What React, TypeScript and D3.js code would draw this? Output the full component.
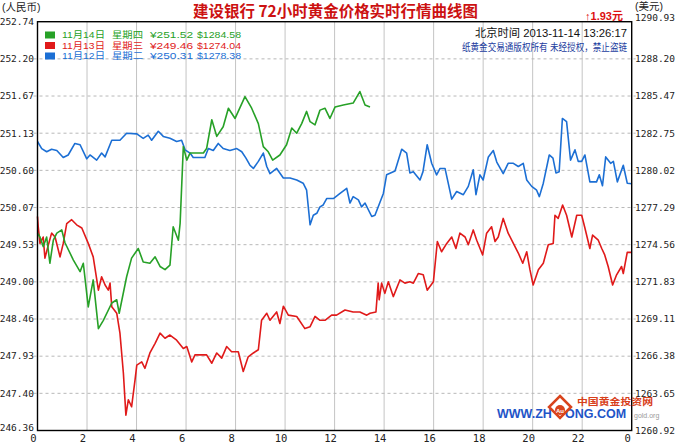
import React from 'react';
import * as d3 from 'd3';

const W = 675;
const H = 443;

// ---- data ----
const xTickHours = [0, 2, 4, 6, 8, 10, 12, 14, 16, 18, 20, 22, 24];
const xTickLabels = ['0', '2', '4', '6', '8', '10', '12', '14', '16', '18', '20', '22', '0'];
const leftTickLabels = ['246.36', '247.40', '247.93', '248.46', '249.00', '249.53', '250.07', '250.60', '251.13', '251.67', '252.20', '252.74'];
const rightTickLabels = ['1260.92', '1263.65', '1266.38', '1269.11', '1271.83', '1274.56', '1277.29', '1280.02', '1282.75', '1285.47', '1288.20', '1290.93'];
const yMin = 246.36;
const yMax = 252.74;

const legendDates = ['11月14日', '11月13日', '11月12日'];
const legendDays = ['星期四', '星期三', '星期二'];
const legendRmb = ['¥251.52', '¥249.46', '¥250.31'];
const legendUsd = ['$1284.58', '$1274.04', '$1278.38'];
const seriesColors = ['#27a127', '#e01a1a', '#1c6fd4'];

const greenSeries: [number, number][] = [[0,249.44],[0.10,249.38],[0.23,249.23],[0.37,249.38],[0.50,248.97],[0.64,249.33],[0.78,249.44],[0.98,249.49],[1.11,249.29],[1.45,249.02],[1.72,248.84],[1.85,248.97],[2.05,248.29],[2.25,248.71],[2.46,247.95],[2.66,248.08],[3.00,248.35],[3.20,248.40],[3.30,248.19],[3.60,248.76],[3.80,249.05],[4.07,249.20],[4.27,248.99],[4.54,248.97],[4.75,249.07],[4.95,248.92],[5.15,248.87],[5.35,248.94],[5.48,249.54],[5.69,249.33],[5.76,249.59],[5.89,250.79],[6.03,250.58],[6.16,250.69],[6.70,250.69],[6.83,250.76],[7.04,251.21],[7.24,250.95],[7.50,251.10],[7.71,251.39],[7.98,251.23],[8.38,251.57],[8.65,251.39],[8.92,251.15],[9.12,250.79],[9.32,250.71],[9.50,250.58],[9.79,250.66],[10.06,250.82],[10.27,251.08],[10.47,251.00],[10.67,251.15],[10.87,251.34],[11.01,251.18],[11.21,251.13],[11.41,251.36],[11.61,251.39],[11.81,251.23],[12.02,251.41],[12.35,251.44],[12.75,251.47],[13.02,251.65],[13.23,251.44],[13.43,251.41]];

const redSeries: [number, number][] = [[0,249.70],[0.03,249.54],[0.10,249.28],[0.23,249.38],[0.30,249.05],[0.44,249.26],[0.57,249.44],[0.71,249.38],[0.91,249.07],[1.04,249.28],[1.18,249.59],[1.38,249.65],[1.58,249.57],[1.79,249.52],[2.05,249.28],[2.25,249.07],[2.46,248.55],[2.59,248.76],[2.73,248.63],[2.86,248.55],[2.93,248.66],[3.00,248.29],[3.20,248.19],[3.33,247.88],[3.47,247.25],[3.57,246.60],[3.67,246.84],[3.80,246.73],[3.94,247.15],[4.01,247.38],[4.21,247.43],[4.34,247.33],[4.54,247.57],[4.75,247.72],[4.95,247.88],[5.15,247.80],[5.35,247.85],[5.62,247.77],[5.89,247.64],[6.03,247.67],[6.23,247.43],[6.36,247.54],[6.83,247.54],[7.04,247.41],[7.24,247.57],[7.44,247.49],[7.64,247.67],[7.84,247.59],[8.11,247.59],[8.31,247.28],[8.51,247.51],[8.72,247.57],[8.92,247.62],[9.05,248.08],[9.26,248.19],[9.39,248.08],[9.66,248.21],[9.79,248.03],[9.93,248.30],[10.13,248.16],[10.47,248.14],[10.80,247.95],[11.01,247.98],[11.21,248.14],[11.41,248.08],[11.61,248.08],[11.88,248.16],[12.08,248.16],[12.42,248.24],[12.75,248.21],[13.02,248.21],[13.30,248.16],[13.43,248.19],[13.67,248.21],[13.76,248.66],[13.80,248.40],[13.90,248.66],[14.03,248.50],[14.17,248.68],[14.37,248.45],[14.64,248.71],[14.84,248.66],[15.04,248.68],[15.18,248.66],[15.38,248.81],[15.58,248.79],[15.74,248.55],[15.99,248.68],[16.15,249.31],[16.32,249.15],[16.53,249.28],[16.73,249.38],[16.90,249.20],[17.06,249.44],[17.27,249.38],[17.40,249.26],[17.60,249.49],[17.74,249.33],[17.98,249.10],[18.14,249.44],[18.34,249.54],[18.48,249.31],[18.61,249.38],[18.81,249.67],[19.01,249.44],[19.22,249.28],[19.42,249.13],[19.60,248.97],[19.76,249.15],[19.89,248.87],[20.02,248.63],[20.23,248.87],[20.43,248.97],[20.63,249.26],[20.83,249.28],[20.90,249.72],[21.03,249.67],[21.21,249.88],[21.37,249.72],[21.58,249.38],[21.78,249.72],[21.98,249.72],[22.11,249.52],[22.31,249.20],[22.42,249.41],[22.65,249.33],[22.79,249.20],[22.91,249.10],[23.05,248.92],[23.23,248.63],[23.39,248.79],[23.59,248.92],[23.66,248.81],[23.82,249.14],[24.0,249.14]];

const blueSeries: [number, number][] = [[0,250.87],[0.17,250.76],[0.37,250.71],[0.57,250.75],[0.78,250.73],[1.04,250.62],[1.24,250.66],[1.51,250.84],[1.72,250.82],[1.99,250.60],[2.12,250.66],[2.39,250.58],[2.59,250.69],[2.73,250.63],[3.00,250.89],[3.33,250.89],[3.60,251.00],[4.01,250.99],[4.27,250.92],[4.47,250.97],[4.61,250.89],[4.88,251.03],[5.08,250.95],[5.35,250.92],[5.62,250.87],[5.82,250.89],[5.96,250.74],[6.16,250.69],[6.29,250.62],[6.76,250.62],[6.90,250.76],[7.10,250.73],[7.30,250.84],[7.50,250.76],[7.77,250.73],[8.05,250.76],[8.25,250.71],[8.42,250.61],[8.58,250.50],[8.72,250.45],[8.92,250.56],[9.12,250.69],[9.26,250.48],[9.39,250.37],[9.66,250.45],[9.93,250.30],[10.20,250.30],[10.47,250.27],[10.73,250.22],[10.87,250.11],[11.01,249.57],[11.14,249.72],[11.28,249.75],[11.41,249.85],[11.54,249.88],[11.68,249.98],[11.95,249.98],[12.22,250.06],[12.49,250.14],[12.62,249.91],[12.75,250.01],[12.96,249.96],[13.09,249.85],[13.23,249.91],[13.50,249.70],[13.63,249.72],[13.97,250.06],[14.10,250.35],[14.44,250.41],[14.71,250.75],[14.91,250.69],[15.04,250.38],[15.18,250.40],[15.45,250.27],[15.57,250.40],[15.74,250.82],[15.92,250.53],[16.12,250.35],[16.26,250.45],[16.46,250.45],[16.73,249.97],[16.93,250.09],[17.20,250.04],[17.40,250.17],[17.60,250.43],[17.71,250.04],[17.87,250.35],[18.00,250.27],[18.21,250.63],[18.41,250.73],[18.55,250.55],[18.81,250.37],[19.01,250.53],[19.22,250.53],[19.42,250.48],[19.62,250.53],[19.76,250.27],[19.96,250.17],[20.16,250.11],[20.27,250.01],[20.43,250.22],[20.67,250.66],[20.82,250.61],[20.94,250.38],[21.07,250.40],[21.20,251.23],[21.37,251.18],[21.53,250.58],[21.71,250.74],[21.84,250.56],[21.98,250.56],[22.11,250.66],[22.31,250.24],[22.58,250.24],[22.69,250.35],[22.82,250.18],[22.95,250.63],[23.15,250.53],[23.26,250.56],[23.42,250.24],[23.66,250.50],[23.82,250.22],[24.0,250.21]];

const cjk = '"Noto Sans CJK SC", "Noto Sans", sans-serif';
const mixed = '"Liberation Sans", "Noto Sans CJK SC", sans-serif';
const mono = '"DejaVu Sans Mono", "Liberation Mono", monospace';

export default function App() {
  const left = 37.5, right = 631.7, top = 21.7, bottom = 430.5;
  const x = d3.scaleLinear().domain([0, 24]).range([left, right]);
  const y = d3.scaleLinear().domain([yMin, yMax]).range([bottom, top]);
  const yTicks = d3.range(leftTickLabels.length).map(i => yMin + (i * (yMax - yMin)) / (leftTickLabels.length - 1));
  const line = d3.line<[number, number]>().x(d => x(d[0])).y(d => y(d[1]));
  const series = [
    { data: blueSeries, color: seriesColors[2] },
    { data: redSeries, color: seriesColors[1] },
    { data: greenSeries, color: seriesColors[0] },
  ];
  const lastTick = yTicks.length - 1;

  return (
    <svg width={W} height={H} style={{ position: 'absolute', left: 0, top: 0, background: '#fff' }}>
      <rect x={0} y={0} width={W} height={H} fill="#fff" />
      {/* vertical grid */}
      {xTickHours.slice(1, -1).map(h => (
        <line key={'vg' + h} x1={x(h)} x2={x(h)} y1={top} y2={bottom} stroke="#c4c4c4" strokeWidth={1} />
      ))}
      {/* horizontal dashed grid */}
      {yTicks.slice(1, -1).map((v, i) => (
        <line key={'hg' + i} x1={left - 4} x2={right + 4} y1={y(v)} y2={y(v)} stroke="#b8b8b8" strokeWidth={1} strokeDasharray="3,3" />
      ))}
      {/* left labels */}
      {yTicks.map((v, i) => (
        <text key={'ly' + i} x={34} y={y(v) - (i === 0 ? 3 : 0)} dy="0.35em" textAnchor="end" fontFamily={mono} fontSize={9.5} fill="#222">{leftTickLabels[i]}</text>
      ))}
      {/* right labels */}
      {yTicks.map((v, i) => (
        <text key={'ry' + i} x={635} y={y(v) - (i === lastTick ? 4 : 0)} dy="0.35em" fontFamily={mono} fontSize={9.5} fill="#222">{rightTickLabels[i]}</text>
      ))}
      {/* bottom labels */}
      {xTickHours.map((h, i) => (
        <text key={'xl' + i} x={x(h) - 4} y={442} textAnchor="middle" fontFamily={mono} fontSize={10.5} fill="#222">{xTickLabels[i]}</text>
      ))}
      {/* series lines */}
      {series.map((s, i) => (
        <path key={'s' + i} d={line(s.data) || ''} fill="none" stroke={s.color} strokeWidth={1.6} strokeLinejoin="round" />
      ))}
      {/* frame */}
      <rect x={left} y={top} width={right - left} height={bottom - top} fill="none" stroke="#000" strokeWidth={1.4} />

      {/* watermark */}
      <g>
        <text x={497} y={418} fontFamily='"Liberation Sans", Arial, sans-serif' fontWeight="bold" fontSize={12.5} fill="#1f55c8">WWW.ZH</text>
        <text x={565} y={418} fontFamily='"Liberation Sans", Arial, sans-serif' fontWeight="bold" fontSize={12.5} fill="#1f55c8">ONG.COM</text>
        <text x={634} y={418} fontFamily="Verdana, sans-serif" fontSize={7} fill="#9a9a9a">gold.org</text>
        <path d="M560,396 L571,407 L560,418 L549,407 Z" fill="#fff" stroke="#d9441c" strokeWidth={2.5} />
        <circle cx={560} cy={410} r={5} fill="#d9441c" />
        <text x={560} y={412.5} textAnchor="middle" fontFamily="sans-serif" fontSize={6} fill="#fff" fontWeight="bold">Au</text>
        <text x={577} y={404.5} fontFamily={mixed} fontSize={9.5} fill="#d8401a" fontWeight="bold" textLength={76} lengthAdjust="spacingAndGlyphs">中国黄金投资网</text>
      </g>

      {/* header texts */}
      <text x={2} y={11} fontFamily={mixed} fontSize={10.5} fill="#222">(人民币)</text>
      <text x={635} y={10} fontFamily={mixed} fontSize={10.5} fill="#222">(美元)</text>
      <text x={193} y={17} fontFamily={cjk} fontSize={15.5} fontWeight="bold" fill="#cc1111" textLength={285} lengthAdjust="spacingAndGlyphs">建设银行  72小时黄金价格实时行情曲线图</text>
      <text x={623} y={20} textAnchor="end" fontFamily={mixed} fontSize={11} fontWeight="bold" fill="#dd1111">↑1.93元</text>
      <text x={627} y={37} textAnchor="end" fontFamily={mixed} fontSize={11} fill="#111" textLength={152} lengthAdjust="spacingAndGlyphs">北京时间 2013-11-14 13:26:17</text>
      <text x={627} y={51} textAnchor="end" fontFamily={mixed} fontSize={10} fill="#1b3c9e" textLength={165} lengthAdjust="spacingAndGlyphs">纸黄金交易通版权所有 未经授权，禁止盗链</text>

      {/* legend */}
      {legendDates.map((d, i) => {
        const cy = 35 + i * 10.5;
        return (
          <g key={'lg' + i}>
            <rect x={45} y={cy - 3.5} width={10} height={7} fill={seriesColors[i]} />
            <text x={62} y={cy} dy="0.36em" fontFamily={mixed} fontSize={9.2} fill={seriesColors[i]} textLength={43} lengthAdjust="spacingAndGlyphs">{d}</text>
            <text x={112} y={cy} dy="0.36em" fontFamily={mixed} fontSize={9.2} fill={seriesColors[i]} textLength={31} lengthAdjust="spacingAndGlyphs">{legendDays[i]}</text>
            <text x={150} y={cy} dy="0.36em" fontFamily={mixed} fontSize={9.2} fill={seriesColors[i]} textLength={43} lengthAdjust="spacingAndGlyphs">{legendRmb[i]}</text>
            <text x={197} y={cy} dy="0.36em" fontFamily={mixed} fontSize={9.2} fill={seriesColors[i]} textLength={44} lengthAdjust="spacingAndGlyphs">{legendUsd[i]}</text>
          </g>
        );
      })}
    </svg>
  );
}
